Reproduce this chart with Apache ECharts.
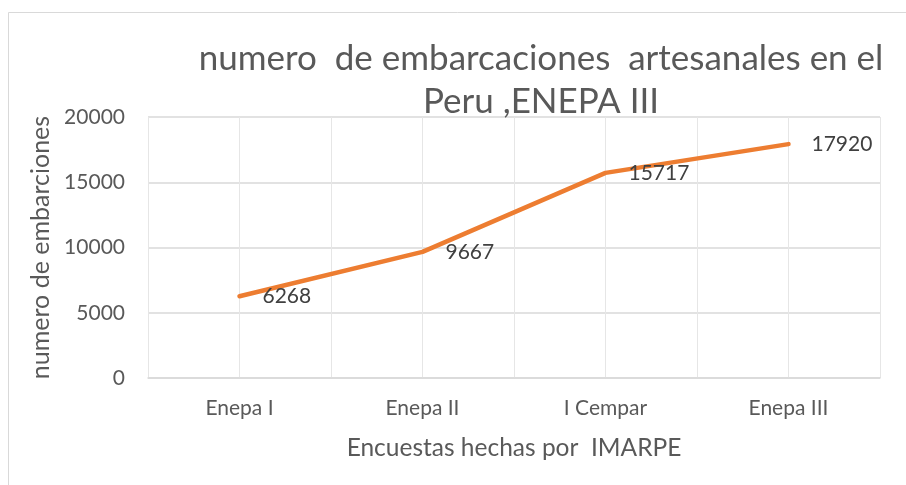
<!DOCTYPE html>
<html lang="es">
<head>
  <meta charset="UTF-8">
  <title>numero de embarcaciones artesanales en el Peru</title>
  <script src="https://cdn.jsdelivr.net/npm/echarts@6/dist/echarts.min.js"></script>
  <style>
    html, body { margin: 0; padding: 0; background: #fff; }
    #chart { width: 906px; height: 485px; }
  </style>
</head>
<body>
  <div id="chart"></div>
  <script>
    // datos
    const categorias = ['Enepa I', 'Enepa II', 'I Cempar', 'Enepa III'];
    const embarcaciones = [6268, 9667, 15717, 17920];
    const yTicks = [0, 5000, 10000, 15000, 20000];

    const gris = '#595959';
    const font = 'Lato, "Open Sans", sans-serif';

    const myChart = echarts.init(document.getElementById('chart'));

    const option = {
      backgroundColor: '#fff',
      textStyle: { fontFamily: font },
      graphic: [{
        type: 'rect',
        shape: { x: 8.5, y: 12.5, width: 1000, height: 1000 },
        style: { fill: 'none', stroke: '#d9d9d9', lineWidth: 1 },
        silent: true
      }],
      title: {
        text: 'numero  de embarcaciones  artesanales en el\nPeru ,ENEPA III',
        left: 536,
        textAlign: 'center',
        top: 32,
        textStyle: {
          fontFamily: font,
          fontWeight: 'normal',
          fontSize: 35,
          lineHeight: 43,
          color: gris
        }
      },
      grid: { left: 148, right: 26, top: 117, bottom: 107 },
      xAxis: [{
        type: 'category',
        data: categorias,
        boundaryGap: true,
        name: 'Encuestas hechas por  IMARPE',
        nameLocation: 'middle',
        nameGap: 58,
        nameTextStyle: { fontFamily: font, fontSize: 24.5, color: gris },
        axisLine: { lineStyle: { color: '#d9d9d9', width: 1.5 } },
        axisTick: { show: false },
        axisLabel: { fontFamily: font, fontSize: 21, color: gris, margin: 20 },
        splitLine: { show: false }
      }, {
        // eje oculto solo para las lineas verticales cada media categoria
        type: 'category',
        data: ['', '', '', '', '', '', '', ''],
        boundaryGap: true,
        position: 'bottom',
        axisLine: { show: false },
        axisTick: { show: false },
        axisLabel: { show: false },
        splitLine: { show: true, lineStyle: { color: '#e6e6e6', width: 1 } }
      }],
      yAxis: {
        type: 'value',
        min: yTicks[0],
        max: yTicks[yTicks.length - 1],
        interval: yTicks[1] - yTicks[0],
        name: 'numero de embarciones',
        nameLocation: 'middle',
        nameGap: 95,
        nameTextStyle: { fontFamily: font, fontSize: 25, color: gris },
        axisLine: { show: false },
        axisTick: { show: false },
        axisLabel: {
          fontFamily: font, fontSize: 21, color: gris, margin: 23,
          formatter: v => String(v)
        },
        splitLine: { lineStyle: { color: '#d9d9d9', width: 1.5 } }
      },
      series: [{
        name: 'embarcaciones',
        type: 'line',
        xAxisIndex: 0,
        data: embarcaciones,
        symbol: 'circle',
        symbolSize: 2,
        showSymbol: true,
        itemStyle: { color: '#ED7D31' },
        smooth: false,
        lineStyle: { color: '#ED7D31', width: 4.5, cap: 'round', join: 'round' },
        label: {
          show: true,
          position: 'right',
          distance: 22,
          offset: [0, 3],
          fontFamily: font,
          fontSize: 21,
          color: '#404040'
        },
        labelLayout: { hideOverlap: false },
        z: 5
      }]
    };

    myChart.setOption(option);
  </script>
</body>
</html>
